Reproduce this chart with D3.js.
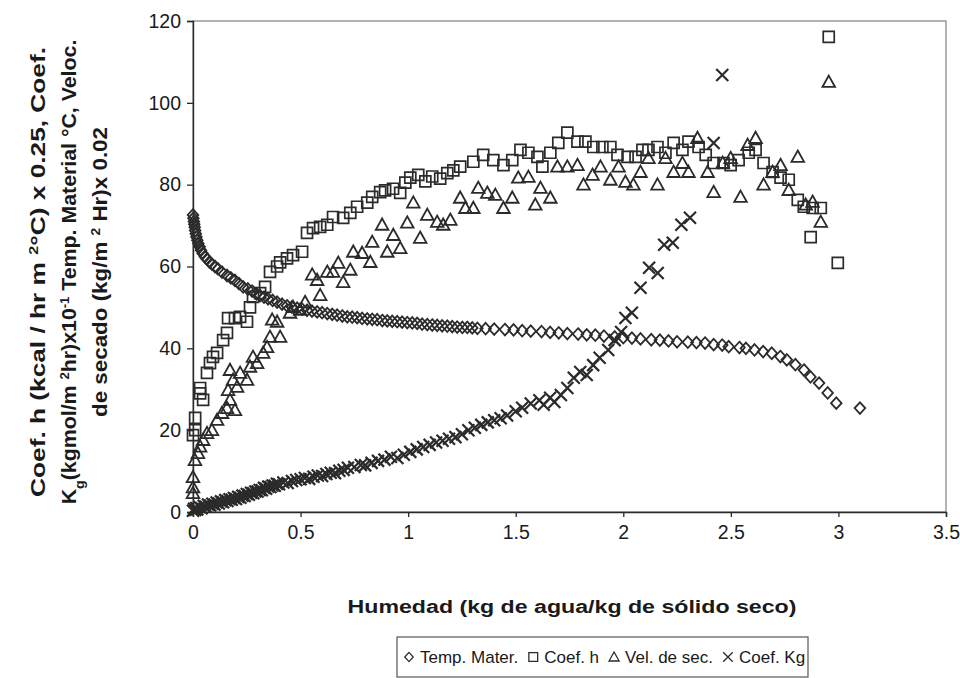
<!DOCTYPE html>
<html><head><meta charset="utf-8">
<script src="https://cdn.jsdelivr.net/npm/d3@7"></script>
<style>
body{margin:0;background:#fff;}
svg{display:block;font-family:Arial,"Liberation Sans",sans-serif;}
</style></head>
<body>
<svg id="c" width="960" height="678"></svg>
<script>
// ---- data ----
const xTicks = [0, 0.5, 1, 1.5, 2, 2.5, 3, 3.5];
const yTicks = [0, 20, 40, 60, 80, 100, 120];
const seriesNames = ["Temp. Mater.", "Coef. h", "Vel. de sec.", "Coef. Kg"];
const xLabel = "Humedad (kg de agua/kg de sólido seco)";

const tempMater = [
[0.000,72.6],[0.002,71.8],[0.004,71.0],[0.006,70.3],[0.008,69.6],[0.010,68.8],[0.013,68.0],[0.016,67.2],[0.020,66.4],[0.025,65.6],[0.031,64.8],[0.037,64.0],[0.045,63.2],[0.055,62.4],[0.065,61.8],[0.077,61.1],[0.088,60.6],[0.102,60.0],[0.116,59.4],[0.135,58.6],[0.158,57.8],[0.176,57.2],[0.195,56.6],[0.214,55.8],[0.233,55.0],[0.255,54.5],[0.275,54.0],[0.295,53.3],[0.312,52.9],[0.330,52.5],[0.349,52.1],[0.370,51.7],[0.391,51.3],[0.414,50.8],[0.437,50.4],[0.460,50.1],[0.484,49.8],[0.507,49.6],[0.530,49.3],[0.553,49.1],[0.577,48.9],[0.600,48.7],[0.624,48.5],[0.647,48.3],[0.670,48.1],[0.694,47.9],[0.717,47.7],[0.740,47.6],[0.763,47.5],[0.786,47.3],[0.810,47.2],[0.833,47.1],[0.856,47.0],[0.880,46.8],[0.903,46.7],[0.926,46.6],[0.949,46.5],[0.972,46.4],[0.996,46.3],[1.019,46.2],[1.042,46.1],[1.065,45.9],[1.089,45.8],[1.112,45.7],[1.135,45.6],[1.158,45.5],[1.182,45.4],[1.205,45.3],[1.228,45.2],[1.252,45.1],[1.275,45.1],[1.298,45.0],[1.322,44.9],[1.36,44.8],[1.40,44.7],[1.45,44.6],[1.49,44.5],[1.53,44.3],[1.57,44.2],[1.62,44.1],[1.66,43.9],[1.70,43.8],[1.74,43.6],[1.79,43.5],[1.83,43.3],[1.87,43.2],[1.91,43.0],[1.96,42.8],[2.00,42.6],[2.04,42.5],[2.08,42.3],[2.13,42.1],[2.17,42.0],[2.21,41.8],[2.25,41.6],[2.30,41.5],[2.34,41.4],[2.38,41.3],[2.42,40.9],[2.46,40.8],[2.49,40.4],[2.54,40.2],[2.57,40.0],[2.61,39.6],[2.65,39.2],[2.69,38.8],[2.73,38.0],[2.76,37.2],[2.80,36.0],[2.84,34.7],[2.87,33.0],[2.91,31.5],[2.95,29.1],[2.99,26.6],[3.10,25.4]
];

const coefH = [
[0.000,18.8],[0.010,20.0],[0.010,23.0],[0.033,29.0],[0.033,30.3],[0.047,27.4],[0.065,34.0],[0.079,36.4],[0.093,37.9],[0.112,38.9],[0.140,42.0],[0.158,43.8],[0.163,47.4],[0.195,47.4],[0.219,47.7],[0.251,46.5],[0.265,50.0],[0.279,52.6],[0.312,53.5],[0.335,55.0],[0.358,58.7],[0.391,60.0],[0.405,61.0],[0.437,62.0],[0.465,62.8],[0.507,63.6],[0.530,68.2],[0.558,69.4],[0.591,69.7],[0.624,70.2],[0.651,72.1],[0.698,71.9],[0.731,73.1],[0.763,74.6],[0.810,75.6],[0.833,77.0],[0.870,78.2],[0.893,78.6],[0.930,79.0],[0.963,78.0],[0.987,80.5],[1.010,81.7],[1.047,82.4],[1.080,80.8],[1.112,82.0],[1.149,81.5],[1.182,82.8],[1.210,83.5],[1.242,84.4],[1.303,85.6],[1.349,87.3],[1.396,86.0],[1.443,84.8],[1.484,86.0],[1.522,88.5],[1.559,87.8],[1.601,86.8],[1.624,84.4],[1.661,87.8],[1.698,90.2],[1.740,92.7],[1.787,90.5],[1.824,90.5],[1.861,89.2],[1.903,89.2],[1.940,89.2],[1.973,87.3],[2.020,86.8],[2.057,86.8],[2.089,88.5],[2.117,88.5],[2.159,89.2],[2.196,87.8],[2.234,90.2],[2.275,88.5],[2.303,90.5],[2.350,89.2],[2.383,87.3],[2.420,85.3],[2.466,85.3],[2.499,84.8],[2.536,86.0],[2.583,87.8],[2.615,88.5],[2.652,85.3],[2.694,83.1],[2.731,81.7],[2.769,81.2],[2.811,76.3],[2.839,74.6],[2.880,74.3],[2.918,74.3],[2.871,67.2],[2.997,60.9],[2.955,116.1]
];

const velSec = [
[0.000,4.6],[0.000,6.0],[0.000,8.5],[0.009,12.7],[0.023,14.4],[0.033,16.0],[0.047,17.6],[0.065,19.3],[0.088,20.0],[0.112,22.5],[0.135,24.2],[0.158,25.4],[0.195,24.9],[0.172,27.4],[0.163,29.8],[0.205,30.6],[0.186,32.3],[0.219,34.0],[0.251,32.3],[0.172,34.7],[0.265,35.5],[0.279,37.9],[0.298,36.4],[0.326,38.9],[0.344,40.3],[0.358,42.8],[0.405,42.8],[0.368,47.0],[0.391,46.5],[0.451,48.7],[0.465,50.1],[0.498,49.4],[0.521,51.3],[0.591,53.0],[0.554,58.0],[0.577,56.7],[0.624,58.7],[0.651,58.7],[0.675,60.9],[0.698,56.2],[0.731,59.2],[0.745,63.6],[0.786,63.3],[0.824,61.1],[0.833,66.0],[0.879,70.2],[0.903,63.6],[0.931,67.7],[0.963,64.5],[0.996,70.7],[1.024,75.6],[1.056,67.0],[1.089,72.6],[1.135,70.9],[1.163,70.2],[1.196,71.4],[1.242,76.8],[1.266,74.3],[1.303,74.3],[1.326,79.2],[1.368,78.0],[1.405,77.5],[1.443,74.3],[1.484,76.8],[1.512,81.7],[1.559,81.9],[1.591,75.1],[1.615,79.2],[1.661,76.8],[1.694,84.4],[1.740,84.4],[1.787,84.8],[1.815,80.0],[1.857,82.4],[1.894,84.4],[1.940,81.2],[1.978,84.4],[2.010,80.7],[2.047,80.0],[2.080,83.1],[2.117,86.5],[2.159,80.0],[2.196,86.5],[2.234,83.1],[2.275,85.3],[2.303,83.1],[2.345,91.4],[2.392,83.1],[2.420,78.2],[2.462,85.3],[2.499,86.5],[2.545,77.0],[2.578,89.7],[2.615,91.4],[2.652,80.0],[2.694,83.1],[2.731,84.8],[2.769,78.7],[2.811,86.8],[2.848,75.1],[2.880,75.8],[2.918,70.9],[2.955,105.1]
];

const coefKg = [
[0.000,0.3],[0.005,0.8],[0.010,0.5],[0.015,1.0],[0.020,0.6],[0.030,1.2],[0.040,0.9],[0.050,1.5],[0.060,1.3],[0.070,1.8],[0.080,1.6],[0.090,2.0],[0.100,1.8],[0.110,2.3],[0.120,2.1],[0.130,2.6],[0.140,2.4],[0.150,2.9],[0.160,2.7],[0.170,3.1],[0.180,3.0],[0.190,3.4],[0.200,3.2],[0.210,3.7],[0.220,3.5],[0.230,4.0],[0.240,3.9],[0.250,4.4],[0.260,4.2],[0.270,4.7],[0.280,4.6],[0.290,5.0],[0.300,5.0],[0.310,5.4],[0.320,5.3],[0.330,5.9],[0.340,5.7],[0.350,6.2],[0.360,6.1],[0.370,6.5],[0.380,6.4],[0.390,6.9],[0.400,6.8],[0.420,7.2],[0.440,7.1],[0.460,7.6],[0.480,7.8],[0.500,8.0],[0.520,8.3],[0.540,8.1],[0.560,8.6],[0.580,8.9],[0.600,8.8],[0.620,9.3],[0.640,9.6],[0.660,9.5],[0.680,10.1],[0.700,10.3],[0.720,10.8],[0.750,11.0],[0.780,11.5],[0.800,11.4],[0.830,12.0],[0.860,12.5],[0.890,12.8],[0.920,13.5],[0.950,13.2],[0.980,14.0],[1.010,14.7],[1.040,15.3],[1.070,15.9],[1.100,16.4],[1.130,17.0],[1.160,17.4],[1.190,17.9],[1.220,18.3],[1.250,19.0],[1.280,20.0],[1.310,20.6],[1.340,21.3],[1.370,21.9],[1.400,22.4],[1.430,22.9],[1.460,23.6],[1.500,24.6],[1.530,25.5],[1.570,26.5],[1.610,27.3],[1.630,26.2],[1.660,27.9],[1.680,26.9],[1.710,28.6],[1.740,30.3],[1.770,32.8],[1.800,34.2],[1.830,33.5],[1.860,35.9],[1.890,37.7],[1.930,39.6],[1.960,42.0],[1.990,44.0],[2.010,47.4],[2.040,48.7],[2.080,54.8],[2.120,59.7],[2.160,58.4],[2.190,65.3],[2.230,65.8],[2.270,70.2],[2.310,71.9],[2.420,90.2],[2.460,106.8]
];

// ---- drawing ----
const svg = d3.select("#c");
const ink = "#2b2b2b";
const x = d3.scaleLinear().domain([0, 3.5]).range([193, 946]);
const y = d3.scaleLinear().domain([0, 120]).range([512, 21]);

// helper: stretch a text element (in its own direction) to a target length
function stretch(t, base, target) {
  const len = t.node().getComputedTextLength();
  t.attr("transform", `${base} scale(${(target / len).toFixed(3)},1)`);
}

// plot frame (top/right lighter)
svg.append("rect").attr("x", 193).attr("y", 21).attr("width", 946 - 193).attr("height", 512 - 21)
  .attr("fill", "none").attr("stroke", "#8a8a8a").attr("stroke-width", 1.3);

const yAxis = svg.append("g").attr("transform", "translate(193,0)")
  .call(d3.axisLeft(y).tickValues(yTicks).tickSize(6).tickPadding(6).tickFormat(d => String(d)));
const xAxis = svg.append("g").attr("transform", "translate(0,512)")
  .call(d3.axisBottom(x).tickValues(xTicks).tickSize(5).tickPadding(8).tickFormat(d => String(d)));
[yAxis, xAxis].forEach(g => {
  g.select(".domain").attr("stroke", ink).attr("stroke-width", 1.4);
  g.selectAll(".tick line").attr("stroke", ink).attr("stroke-width", 1.3);
  g.selectAll(".tick text").attr("fill", "#1a1a1a").style("font-size", "19.5px").style("font-family", "Arial, 'Liberation Sans', sans-serif");
});

// marker shapes
const shapes = {
  diamond: (cx, cy) => `M${cx},${cy-5.8}L${cx+5.3},${cy}L${cx},${cy+5.8}L${cx-5.3},${cy}Z`,
  square: (cx, cy) => `M${cx-5.5},${cy-5.5}h11v11h-11Z`,
  triangle: (cx, cy) => `M${cx},${cy-6.3}L${cx+6.3},${cy+5}L${cx-6.3},${cy+5}Z`,
  cross: (cx, cy) => `M${cx-6},${cy-6}L${cx+6},${cy+6}M${cx+6},${cy-6}L${cx-6},${cy+6}`
};
const series = [
  {name: seriesNames[0], data: tempMater, shape: "diamond", sw: 1.8},
  {name: seriesNames[1], data: coefH, shape: "square", sw: 1.7},
  {name: seriesNames[2], data: velSec, shape: "triangle", sw: 1.8},
  {name: seriesNames[3], data: coefKg, shape: "cross", sw: 2.2}
];
series.forEach(s => {
  svg.append("g").selectAll("path").data(s.data).join("path")
    .attr("d", d => shapes[s.shape](x(d[0]), y(d[1])))
    .attr("fill", "none").attr("stroke", ink).attr("stroke-width", s.sw);
});

// x label
const xl = svg.append("text").attr("x", 0).attr("y", 0).attr("text-anchor", "middle")
  .attr("font-weight", "bold").attr("font-size", 19).attr("fill", "#1a1a1a").text(xLabel);
stretch(xl, "translate(572,613)", 449);

// y label (three rotated lines)
const yl = [
  {cx: 45, len: 450, parts: [["Coef. h (kcal / hr m  ", 0], ["2", 1], ["°C) x 0.25, Coef.", 0]]},
  {cx: 76, len: 465, parts: [["K", 0], ["g", -1], ["(kgmol/m ", 0], ["2", 1], ["hr)x10", 0], ["-1", 1], [" Temp. Material °C, Veloc.", 0]]},
  {cx: 107, len: 290, parts: [["de secado (kg/m  ", 0], ["2", 1], [" Hr)x 0.02", 0]]}
];
yl.forEach(l => {
  const t = svg.append("text").attr("x", 0).attr("y", 0)
    .attr("text-anchor", "middle").attr("font-weight", "bold").attr("font-size", 19.5).attr("fill", "#1a1a1a");
  l.parts.forEach(p => {
    const ts = t.append("tspan").text(p[0]);
    if (p[1] === 1) ts.attr("font-size", 12).attr("baseline-shift", "super");
    if (p[1] === -1) ts.attr("font-size", 13).attr("baseline-shift", "sub");
  });
  stretch(t, `translate(${l.cx},272) rotate(-90)`, l.len);
});

// legend
svg.append("rect").attr("x", 397).attr("y", 637).attr("width", 411).attr("height", 40)
  .attr("fill", "none").attr("stroke", "#555").attr("stroke-width", 1.2);
const lg = svg.append("g");
let lx = 404;
const legY = 663;
series.forEach(s => {
  lg.append("path").attr("d", shapes[s.shape](lx + 5, legY - 6))
    .attr("fill", "none").attr("stroke", ink).attr("stroke-width", 1.6)
    .attr("transform", `translate(${lx + 5},${legY - 6}) scale(0.8) translate(${-(lx + 5)},${-(legY - 6)})`);
  const t = lg.append("text").attr("x", lx + 16).attr("y", legY).attr("font-size", 17).attr("fill", "#1a1a1a").text(s.name);
  lx += 16 + t.node().getComputedTextLength() + 10;
});
</script>
</body></html>
